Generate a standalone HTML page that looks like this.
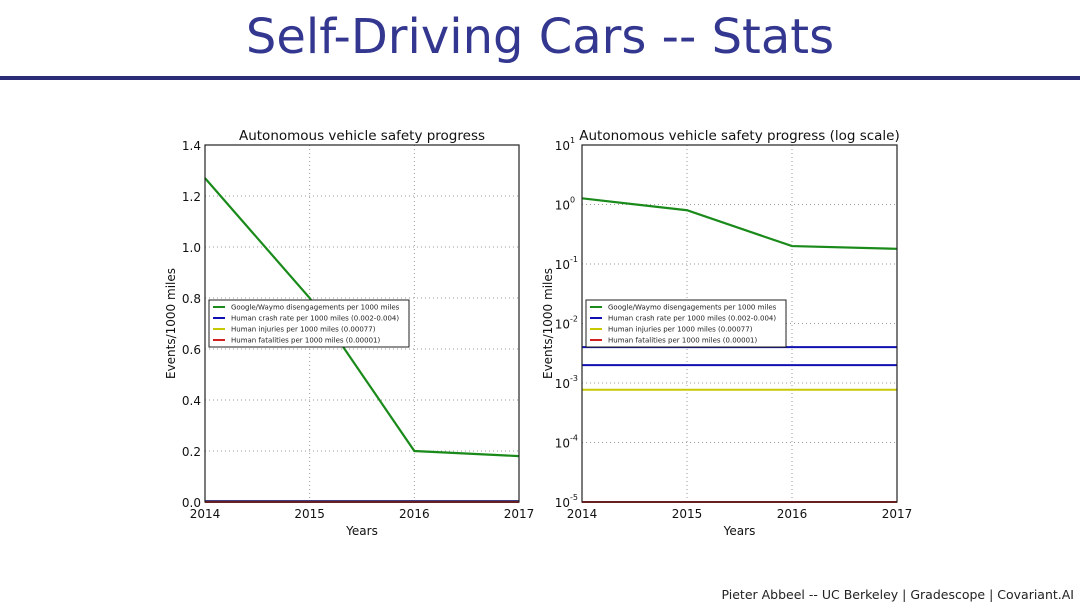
<!DOCTYPE html>
<html><head><meta charset="utf-8"><style>
body{margin:0;width:1080px;height:608px;background:#fff;overflow:hidden;font-family:"Liberation Sans",sans-serif}
</style></head><body>
<div style="position:absolute;left:0;top:9px;width:1080px;text-align:center;font-size:48px;color:#34378f;font-family:'DejaVu Sans','Liberation Sans',sans-serif;">Self-Driving Cars -- Stats</div>
<div style="position:absolute;left:0;top:76px;width:1080px;height:4px;background:#2a2c78"></div>
<div style="position:absolute;right:6px;top:587px;font-size:12.5px;color:#222;font-family:'DejaVu Sans','Liberation Sans',sans-serif">Pieter Abbeel -- UC Berkeley | Gradescope | Covariant.AI</div>
<svg id="svg" width="1080" height="608" style="position:absolute;left:0;top:0" font-family="DejaVu Sans, Liberation Sans, sans-serif"></svg>
<script>
const years=[2014,2015,2016,2017];
const waymo=[1.27,0.8,0.2,0.18];
const crashLow=0.002, crashHigh=0.004, injuries=0.00077, fatalities=0.00001;
const linTicks=[0,0.2,0.4,0.6,0.8,1.0,1.2,1.4];
const logTicks=[-5,-4,-3,-2,-1,0,1];
const legendLabels=["Google/Waymo disengagements per 1000 miles","Human crash rate per 1000 miles (0.002-0.004)","Human injuries per 1000 miles (0.00077)","Human fatalities per 1000 miles (0.00001)"];
const legendColors=["#1a8a1a","#1010b0","#c8c800","#d02020"];
const NS="http://www.w3.org/2000/svg";
const svg=document.getElementById('svg');
function el(t,a,txt){const e=document.createElementNS(NS,t);for(const k in a)e.setAttribute(k,a[k]);if(txt!==undefined)e.textContent=txt;svg.appendChild(e);return e;}
function chart(id,L,R,T,B,yf,ticks,tickLabel,title,log){
  const x=v=>L+(v-2014)/3*(R-L);
  const y=v=>B-yf(v)*(B-T);
  const g=el('rect',{x:L,y:T,width:R-L,height:B-T,fill:'#fff',stroke:'none'});
  
  
  years.forEach(yr=>{
    const l=el('line',{x1:x(yr),x2:x(yr),y1:T,y2:B,stroke:'#999','stroke-dasharray':'1,3','stroke-width':1});
    
    
    const t=el('text',{x:x(yr),y:B+16,'text-anchor':'middle','font-size':12,fill:'#111'},yr);
    
    
  });
  ticks.forEach(tv=>{
    const yy=log?B-(tv+5)/6*(B-T):y(tv);
    const l=el('line',{x1:L,x2:R,y1:yy,y2:yy,stroke:'#999','stroke-dasharray':'1,3','stroke-width':1});
    
    
    if(log){
      const t=el('text',{x:L-12,y:yy+5,'text-anchor':'end','font-size':12,fill:'#111'},'10');
      
      
      const s=el('text',{x:L-12,y:yy-2,'font-size':8,fill:'#111'},String(tv));
      
      
    } else {
      const t=el('text',{x:L-4,y:yy+5,'text-anchor':'end','font-size':12,fill:'#111'},tv.toFixed(1));
      
      
    }
  });
  const hl=(v,c,n)=>{const l=el('line',{x1:L,x2:R,y1:y(v),y2:y(v),stroke:c,'stroke-width':2});
    
    };
  hl(crashHigh,'#1010b0',id+'-crash-high-line');
  hl(crashLow,'#1010b0',id+'-crash-low-line');
  hl(injuries,'#c8c800',id+'-injuries-line');
  hl(fatalities,'#d02020',id+'-fatalities-line');
  const p=el('polyline',{points:years.map((yr,i)=>x(yr)+','+y(waymo[i])).join(' '),fill:'none',stroke:'#1a8a1a','stroke-width':2.2});
  
  
  const f=el('rect',{x:L,y:T,width:R-L,height:B-T,fill:'none',stroke:'#222','stroke-width':1.2});
  
  
  const tt=el('text',{x:(L+R)/2,y:T-5,'text-anchor':'middle','font-size':13.5,fill:'#111'},title);
  
  
  const xl=el('text',{x:(L+R)/2,y:B+33,'text-anchor':'middle','font-size':12,fill:'#111'},'Years');
  
  
  const yl=el('text',{x:0,y:0,'text-anchor':'middle','font-size':12,fill:'#111',transform:`translate(${L-30},${(T+B)/2}) rotate(-90)`},'Events/1000 miles');
  
  
  const lg=el('rect',{x:L+4,y:300,width:200,height:47,fill:'#fff',stroke:'#222','stroke-width':1});
  
  
  legendLabels.forEach((lab,i)=>{
    const yy=307+i*11;
    const ll=el('line',{x1:L+8,x2:L+20,y1:yy,y2:yy,stroke:legendColors[i],'stroke-width':2});
    
    
    const lt=el('text',{x:L+26,y:yy+2.5,'font-size':7,fill:'#222'},lab);
    
    
  });
}
chart('linear-chart',205,519,145,502,v=>v/1.4,linTicks,null,'Autonomous vehicle safety progress',false);
chart('log-chart',582,897,145,502,v=>(Math.log10(v)+5)/6,logTicks,null,'Autonomous vehicle safety progress (log scale)',true);
</script>
</body></html>
